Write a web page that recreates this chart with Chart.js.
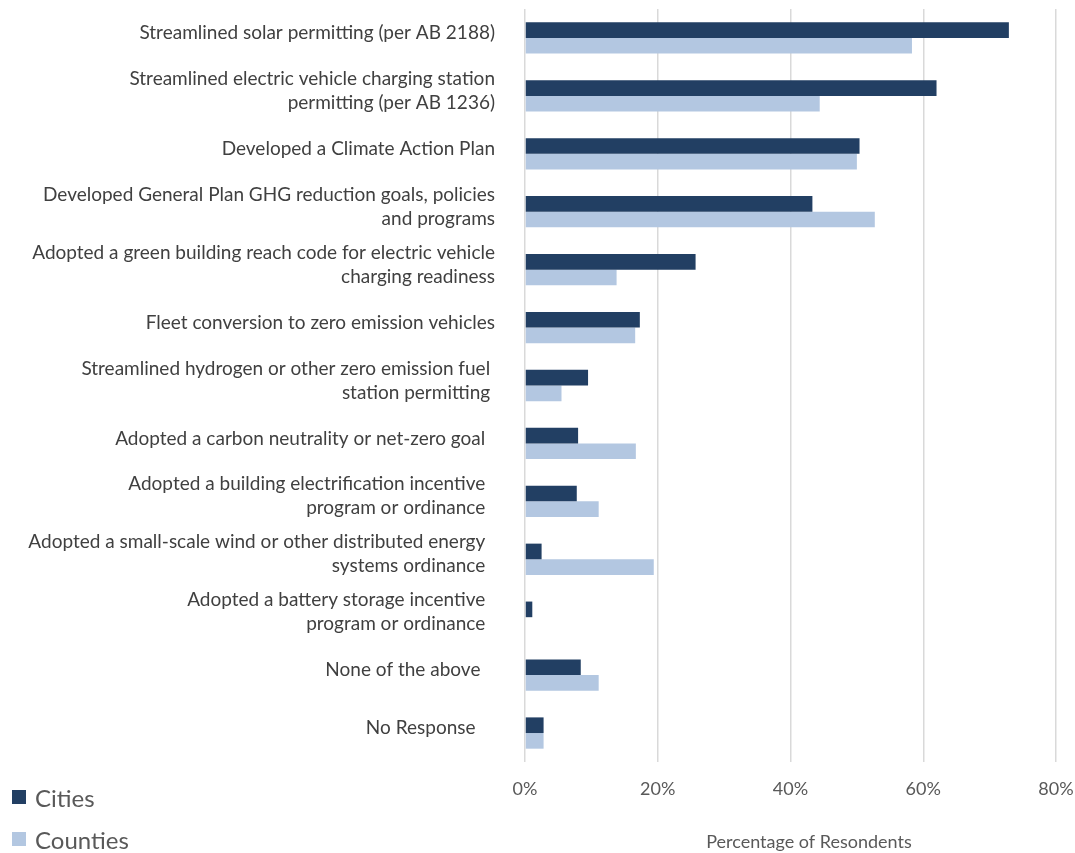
<!DOCTYPE html>
<html>
<head>
<meta charset="utf-8">
<script src="https://cdn.jsdelivr.net/npm/chart.js@4/dist/chart.umd.min.js"></script>
<style>
  body { margin: 0; background: #fff; }
  .wrap { position: relative; width: 1075px; height: 853px; }
  .legend { position: absolute; left: 12px; top: 776px; font-family: Lato, sans-serif; font-size: 24px; color: #595959; }
  .legend div { height: 42px; display: flex; align-items: center; }
  .legend span.box { display: inline-block; width: 14px; height: 14px; margin-right: 9px; }
</style>
</head>
<body>
<div class="wrap">
  <canvas id="chartId" width="1075" height="853"></canvas>
  <div class="legend">
    <div><span class="box" style="background:#223f63"></span>Cities</div>
    <div><span class="box" style="background:#b3c7e1"></span>Counties</div>
  </div>
</div>
<script>
// categories (top to bottom)
const categories = [
  ["Streamlined solar permitting (per AB 2188)"],
  ["Streamlined electric vehicle charging station", "permitting (per AB 1236)"],
  ["Developed a Climate Action Plan"],
  ["Developed General Plan GHG reduction goals, policies", "and programs"],
  ["Adopted a green building reach code for electric vehicle", "charging readiness"],
  ["Fleet conversion to zero emission vehicles"],
  ["Streamlined hydrogen or other zero emission fuel ", "station permitting "],
  ["Adopted a carbon neutrality or net-zero goal  "],
  ["Adopted a building electrification incentive  ", "program or ordinance  "],
  ["Adopted a small-scale wind or other distributed energy  ", "systems ordinance  "],
  ["Adopted a battery storage incentive  ", "program or ordinance  "],
  ["None of the above   "],
  ["No Response    "],
];

// percentage of respondents
const cities = [72.9, 62.0, 50.4, 43.3, 25.7, 17.3, 9.5, 8.0, 7.8, 2.5, 1.1, 8.4, 2.8];
const counties = [58.3, 44.4, 50.0, 52.7, 13.8, 16.6, 5.5, 16.7, 11.1, 19.4, 0, 11.1, 2.8];

const xTicks = [0, 20, 40, 60, 80];

var chrt = document.getElementById("chartId").getContext("2d");
var chartId = new Chart(chrt, {
  type: "bar",
  data: {
    labels: categories,
    datasets: [
      {
        label: "Cities",
        data: cities,
        backgroundColor: "#223f63",
        barPercentage: 1,
        categoryPercentage: 0.54,
      },
      {
        label: "Counties",
        data: counties,
        backgroundColor: "#b3c7e1",
        barPercentage: 1,
        categoryPercentage: 0.54,
      },
    ],
  },
  options: {
    indexAxis: "y",
    responsive: false,
    animation: false,
    layout: {
      padding: { top: 9, right: 19, bottom: 0, left: 0 },
    },
    plugins: {
      legend: { display: false },
      tooltip: { enabled: false },
    },
    scales: {
      x: {
        min: 0,
        max: 80,
        afterBuildTicks: (axis) => {
          axis.ticks = xTicks.map((v) => ({ value: v }));
        },
        afterFit: (axis) => {
          axis.height = 91;
          axis.paddingLeft = 0;
          axis.paddingRight = 0;
        },
        grid: { color: "#d9d9d9", lineWidth: 1.5, drawTicks: false },
        border: { display: false },
        ticks: {
          padding: 16,
          color: "#595959",
          font: { family: "Lato", size: 18 },
          callback: (v) => v + "%",
        },
        title: {
          display: true,
          text: "        Percentage of Resondents",
          color: "#595959",
          font: { family: "Lato", size: 18 },
          padding: { top: 0, bottom: 0 },
        },
      },
      y: {
        afterFit: (axis) => {
          axis.width = 525;
          axis.paddingTop = 0;
          axis.paddingBottom = 0;
        },
        grid: { display: false, drawTicks: false },
        border: { display: false },
        ticks: {
          padding: 30,
          labelOffset: -5,
          color: "#404040",
          font: { family: "Lato", size: 19, lineHeight: "24px" },
        },
      },
    },
  },
});
</script>
</body>
</html>
